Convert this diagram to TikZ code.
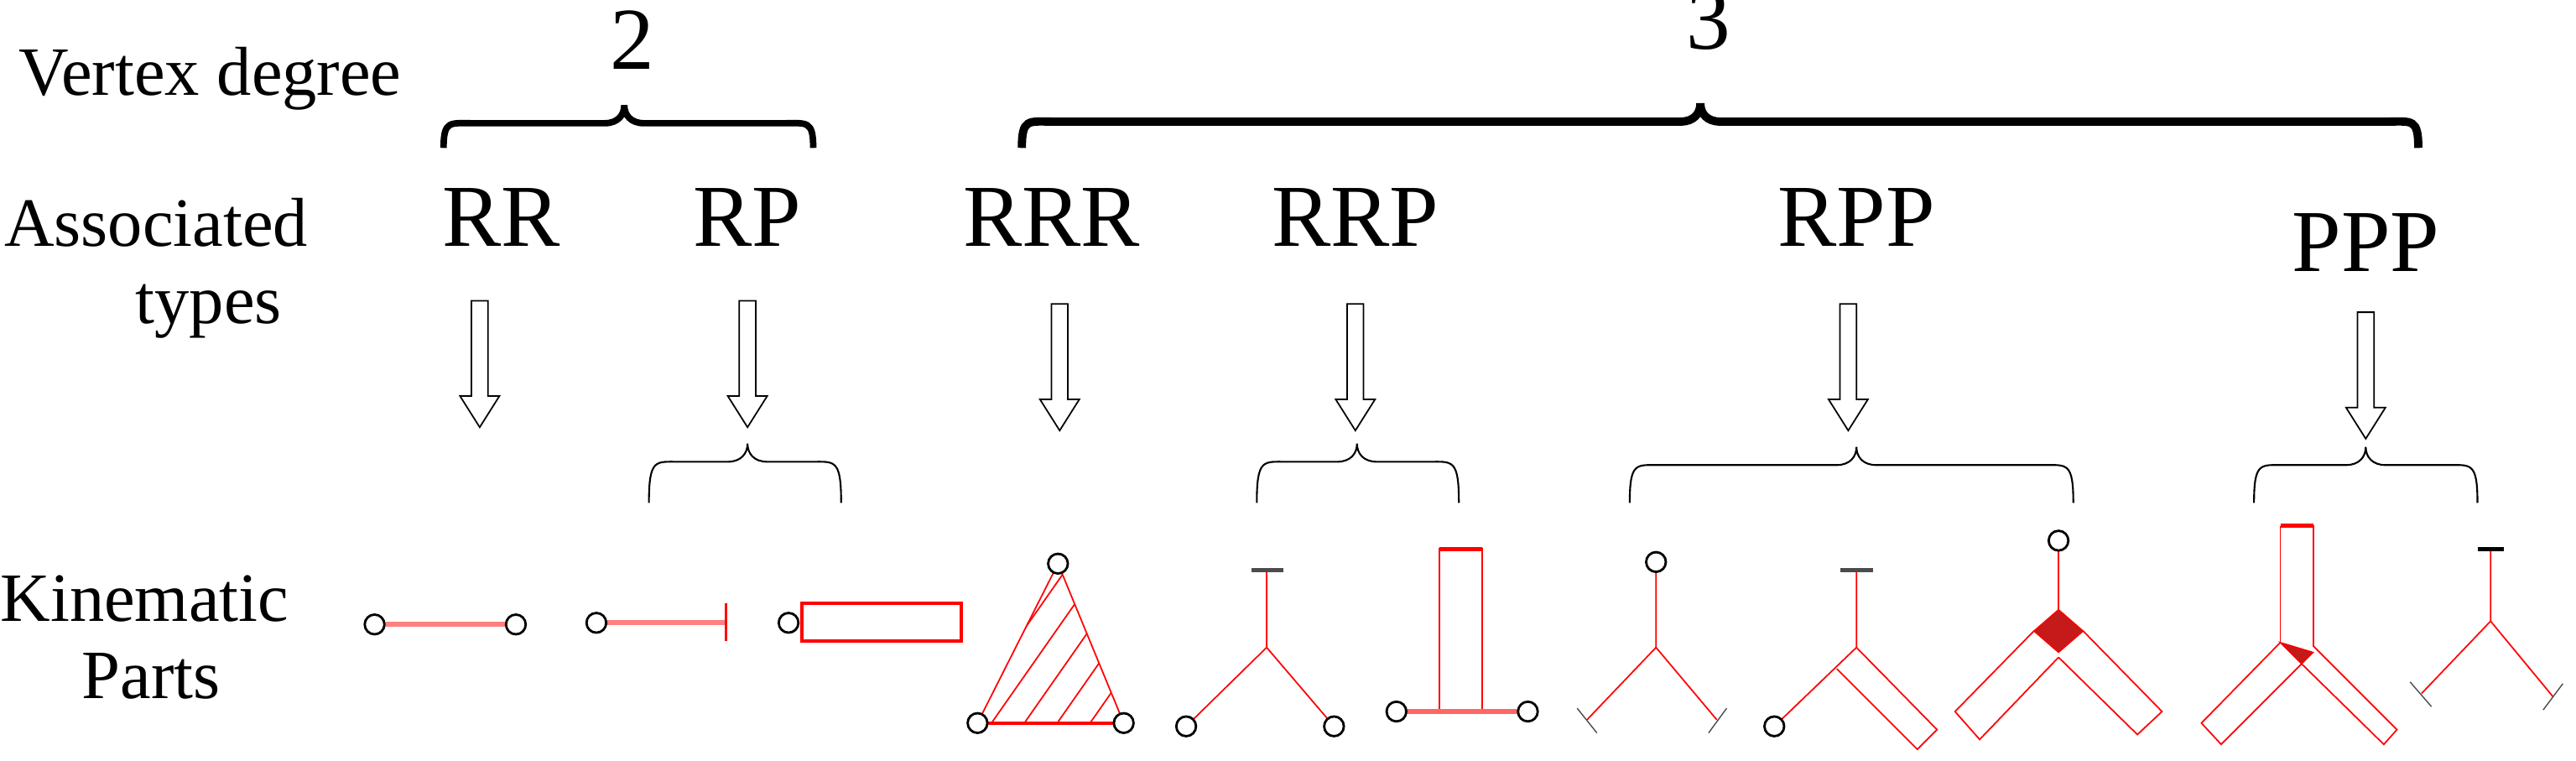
\documentclass[tikz,border=0pt]{standalone}
\usepackage{fontspec}
\setmainfont{Liberation Serif}
\usetikzlibrary{calc}

\tikzset{
  lbl/.style={anchor=base, inner sep=0pt, font=\fontsize{30}{33}\selectfont},
  side/.style={anchor=base, inner sep=0pt, font=\fontsize{23.5}{27}\selectfont},
  joint/.style={draw=black, fill=white, thick},
  link/.style={draw=red, line width=0.5pt},
  bar/.style={draw=red!50, line width=1.6pt},
  brace/.style={draw=black, line width=0.6pt},
  hollow/.style={draw=black, fill=white, line width=0.5pt}
}

% curly brace opening downwards: x1, cusp x, x2, cusp y, end y
\newcommand\cbrace[6][]{%
  \draw[brace,#1] (#2,#6) .. controls (#2,#5+9) and (#2+4,#5+11) .. (#2+18,#5+11)
    -- (#3-12,#5+11) .. controls (#3-4,#5+11) and (#3,#5+6) .. (#3,#5)
    .. controls (#3,#5+6) and (#3+4,#5+11) .. (#3+12,#5+11)
    -- (#4-18,#5+11) .. controls (#4-4,#5+11) and (#4,#5+9) .. (#4,#6);}
\newcommand\joint[2]{\draw[joint] (#1,#2) circle (6);}

\begin{document}
\begin{tikzpicture}[x=0.0196cm, y=-0.0196cm]
\useasboundingbox (0,0) rectangle (1568,463);

\node[side] (T1) at (128,58) {Vertex degree};
\node[side] (T2) at (95,150) {Associated};
\node[side] (T3) at (127,197) {types};
\node[side] (T4) at (88,378) {Kinematic};
\node[side] (T5) at (92,425) {Parts};

\node[lbl] (D2) at (385,42) {2};
\node[lbl] (D3) at (1040,30) {3};

\node[lbl] (RR) at (305,150) {RR};
\node[lbl] (RP) at (455,150) {RP};
\node[lbl] (RRR) at (640,150) {RRR};
\node[lbl] (RRP) at (825,150) {RRP};
\node[lbl] (RPP) at (1130,150) {RPP};
\node[lbl] (PPP) at (1440,165) {PPP};

\cbrace[line width=2.2pt]{270}{380}{495}{64}{90}
\cbrace[line width=2.8pt]{622}{1035}{1472}{63}{90}

\foreach \x/\y in {292/183, 455/183, 645/185, 825/185, 1125/185, 1440/190}
  \draw[hollow] (\x-5,\y) -- (\x+5,\y) -- (\x+5,\y+58) -- (\x+12,\y+58) -- (\x,\y+77)
    -- (\x-12,\y+58) -- (\x-5,\y+58) -- cycle;

\cbrace{395}{455}{512}{270}{306}
\cbrace{765}{826}{888}{270}{306}
\cbrace{992}{1130}{1262}{272}{306}
\cbrace{1372}{1440}{1508}{272}{306}

% RR
\draw[bar] (228,380) -- (314,380);
\joint{228}{380} \joint{314}{380}
% RP
\draw[bar] (363,379) -- (442,379);
\draw[link, line width=0.8pt] (442,367) -- (442,390);
\joint{363}{379}
\draw[link, line width=1pt] (488,367) rectangle (585,390);
\joint{480}{379}
% RRR
\begin{scope}
  \clip (644,343) -- (595,440) -- (684,440) -- cycle;
  \foreach \k in {0,...,9}
    \draw[link] (560+\k*20,445) -- ++(70,-100);
\end{scope}
\draw[link] (644,343) -- (595,440) -- (684,440) -- cycle;
\draw[red, line width=1.2pt] (595,440) -- (684,440);
\joint{644}{343} \joint{595}{440} \joint{684}{440}

% RRP
\draw[link] (771,347) -- (771,394) -- (722,442);
\draw[link] (771,394) -- (812,442);
\draw[black!70, line width=1.5pt] (762,347) -- (781,347);
\joint{722}{442} \joint{812}{442}
\draw[link] (876,334) rectangle (902,433);
\draw[red, line width=1.5pt] (876,334) -- (902,334);
\draw[red!60, line width=1.5pt] (850,433) -- (930,433);
\joint{850}{433} \joint{930}{433}

% RPP
\draw[link] (1008,348) -- (1008,394) -- (966,438);
\draw[link] (1008,394) -- (1045,438);
\draw[black!70] (960,431) -- (972,446);
\draw[black!70] (1051,431) -- (1040,446);
\joint{1008}{342}
\draw[link] (1130,347) -- (1130,394) -- (1080,442);
\draw[black!70, line width=1.5pt] (1120,347) -- (1140,347);
\draw[link] (1130,394) -- (1179,444) -- (1167,456) -- (1118,407);
\joint{1080}{442}
\draw[link] (1253,335) -- (1253,371);
\draw[link] (1238,384) -- (1190,433) -- (1205,450) -- (1253,400);
\draw[link] (1268,384) -- (1316,433) -- (1301,447) -- (1253,400);
\draw[red, fill=red!75!black!90] (1253,371) -- (1238,384) -- (1253,397) -- (1268,384) -- cycle;
\joint{1253}{329}

% PPP
\draw[link] (1388,320) -- (1408,320) -- (1408,393);
\draw[link] (1388,320) -- (1388,391);
\draw[red, line width=1.5pt] (1388,320) -- (1408,320);
\draw[link] (1388,391) -- (1340,440) -- (1352,453) -- (1401,404);
\draw[link] (1408,393) -- (1459,444) -- (1451,453) -- (1401,404);
\draw[red, fill=red!75!black!90] (1388,391) -- (1408,397) -- (1401,404) -- cycle;
\draw[link] (1516,334) -- (1516,378) -- (1474,422);
\draw[link] (1516,378) -- (1554,424);
\draw[black, line width=1.5pt] (1508,334) -- (1524,334);
\draw[black!70] (1467,415) -- (1480,430);
\draw[black!70] (1560,416) -- (1548,432);
\end{tikzpicture}
\end{document}
